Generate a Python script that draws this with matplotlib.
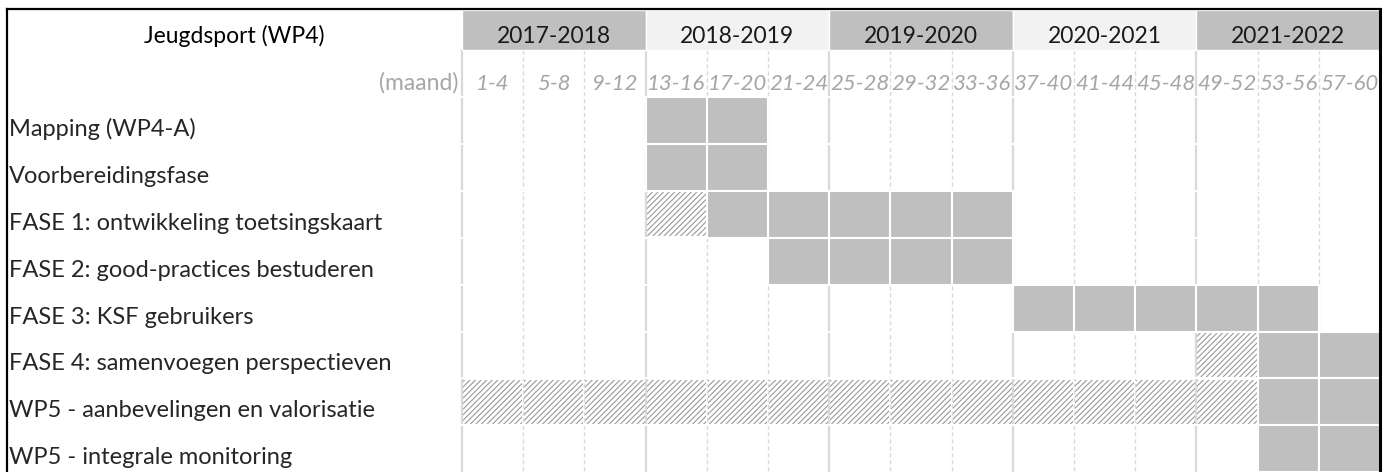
import matplotlib
matplotlib.use('Agg')
import matplotlib.pyplot as plt
from matplotlib.patches import Rectangle

plt.rcParams['font.family'] = ['Lato', 'DejaVu Sans']
plt.rcParams['hatch.linewidth'] = 0.8

# data
title = 'Jeugdsport (WP4)'
years = ['2017-2018', '2018-2019', '2019-2020', '2020-2021', '2021-2022']
periods = ['1-4', '5-8', '9-12', '13-16', '17-20', '21-24', '25-28', '29-32',
           '33-36', '37-40', '41-44', '45-48', '49-52', '53-56', '57-60']
tasks = ['Mapping (WP4-A)', 'Voorbereidingsfase', 'FASE 1: ontwikkeling toetsingskaart',
         'FASE 2: good-practices bestuderen', 'FASE 3: KSF gebruikers',
         'FASE 4: samenvoegen perspectieven', 'WP5 - aanbevelingen en valorisatie',
         'WP5 - integrale monitoring']
# (first column, last column + 1) per task
solid_cols = [(3, 5), (3, 5), (4, 9), (5, 9), (9, 14), (13, 15), (13, 15), (13, 15)]
hatch_cols = [None, None, (3, 4), None, None, (12, 13), (0, 13), None]

# layout in pixels
W, H = 1395, 472
LEFT, RIGHT = 7, 1380
GX0 = 462
COL_W = (RIGHT - GX0) / len(periods)
HEAD_Y0, HEAD_Y1 = 10, 50
MONTH_Y1 = 97
ROW_H = 46.9

GRAY = '#bfbfbf'
LIGHT = '#f2f2f2'
GRID = '#d9d9d9'
TXT_GRAY = '#a6a6a6'

fig = plt.figure(figsize=(W / 100, H / 100), dpi=100)
ax = fig.add_axes([0, 0, 1, 1])
ax.set_xlim(0, W)
ax.set_ylim(H, 0)
ax.axis('off')

def col_x(i):
    return GX0 + i * COL_W

# year header
for k, y in enumerate(years):
    x0 = col_x(3 * k)
    ax.add_patch(Rectangle((x0, HEAD_Y0), 3 * COL_W, HEAD_Y1 - HEAD_Y0,
                           facecolor=GRAY if k % 2 == 0 else LIGHT,
                           edgecolor='white', lw=1, zorder=2))
    ax.text(x0 + 1.5 * COL_W, HEAD_Y1 - 7, y, ha='center', va='baseline',
            fontsize=16.5, color='#1a1a1a', zorder=5)
ax.text((LEFT + GX0) / 2, HEAD_Y1 - 7, title, ha='center', va='baseline',
        fontsize=16.5, color='black', zorder=5)

# period labels
ax.text(GX0 - 4, MONTH_Y1 - 7, '(maand)', ha='right', va='baseline',
        fontsize=16.5, color=TXT_GRAY, zorder=5)
for i, p in enumerate(periods):
    ax.text(col_x(i) + COL_W / 2, MONTH_Y1 - 7, p, ha='center', va='baseline',
            fontsize=16, color=TXT_GRAY, style='italic', zorder=5)

# vertical grid
for i in range(len(periods)):
    x = col_x(i)
    if i % 3 == 0:
        ax.plot([x, x], [HEAD_Y1, H], color=GRID, lw=1.6, zorder=1)
    else:
        ax.plot([x, x], [HEAD_Y1, H], color=GRID, lw=1.0, ls=(0, (3, 2)), zorder=1)

# tasks
for r, name in enumerate(tasks):
    y0 = MONTH_Y1 + r * ROW_H
    ax.text(LEFT + 2, y0 + ROW_H - 8, name, ha='left', va='baseline',
            fontsize=17, color='#262626', zorder=5)
    if hatch_cols[r]:
        a, b = hatch_cols[r]
        for c in range(a, b):
            ax.add_patch(Rectangle((col_x(c) + 1, y0 + 1.5), COL_W - 2, ROW_H - 3,
                                   facecolor='white', edgecolor='#999999', lw=0,
                                   hatch='//////', zorder=0.5))
    a, b = solid_cols[r]
    for c in range(a, b):
        ax.add_patch(Rectangle((col_x(c), y0), COL_W, ROW_H, facecolor=GRAY,
                               edgecolor='white', lw=1.5, zorder=3))
    # white row separator through the grid
    ax.plot([GX0, RIGHT], [y0, y0], color='white', lw=1.5, zorder=2)

# outer black frame
ax.plot([LEFT, LEFT], [8.5, H], color='black', lw=1.6, zorder=6)
ax.plot([LEFT, RIGHT], [8.5, 8.5], color='black', lw=1.6, zorder=6)
ax.plot([RIGHT, RIGHT], [8.5, H], color='black', lw=2.2, zorder=6)

fig.savefig('out.png', dpi=100)
